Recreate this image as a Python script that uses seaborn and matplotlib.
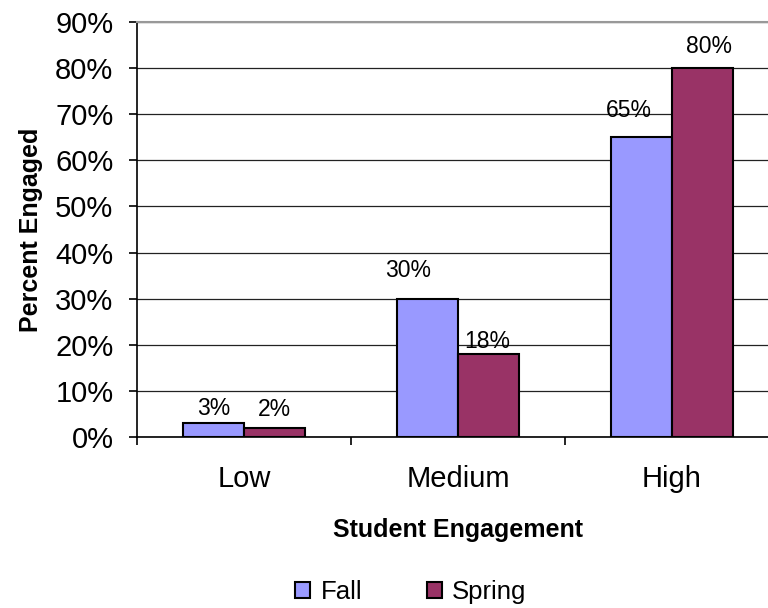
import pandas as pd
import numpy as np
import seaborn as sns
import matplotlib.pyplot as plt
from matplotlib.ticker import MultipleLocator, FixedLocator, PercentFormatter

categories = ["Low", "Medium", "High"]
fall = [3, 30, 65]
spring = [2, 18, 80]
seasons = ["Fall", "Spring"]
colors = ["#9999FF", "#993366"]

df = pd.DataFrame({
    "Engagement": categories * 2,
    "Season": ["Fall"] * 3 + ["Spring"] * 3,
    "Percent": fall + spring,
})

sns.set_style("white")
plt.rcParams["font.family"] = ["Liberation Sans", "DejaVu Sans"]
plt.rcParams.update({"text.color": "black", "axes.labelcolor": "black",
                     "xtick.color": "black", "ytick.color": "black"})

fig = plt.figure(figsize=(7.68, 6.08), dpi=100)
ax = fig.add_axes([0.1784, 0.2812, 0.836, 0.6826])

sns.barplot(data=df, x="Engagement", y="Percent", hue="Season", order=categories,
            hue_order=seasons, palette=colors, width=0.57, edgecolor="black",
            linewidth=1.5, saturation=1, ax=ax, zorder=3)

ax.set_ylim(0, 90)
ax.set_xlim(-0.5, 2.5)
ax.yaxis.set_major_locator(MultipleLocator(10))
ax.yaxis.set_major_formatter(PercentFormatter(decimals=0))
ax.grid(axis="y", color="#222222", linewidth=0.9, zorder=0)
ax.grid(axis="x", visible=False)

ax.spines["right"].set_visible(False)
ax.spines["top"].set_color("#999999")
ax.spines["top"].set_linewidth(1.5)
for side in ["left", "bottom"]:
    ax.spines[side].set_color("black")
    ax.spines[side].set_linewidth(1.2)

ax.tick_params(axis="y", which="major", left=True, length=6, width=1.2, pad=11, labelsize=21)
ax.tick_params(axis="x", which="major", bottom=False, length=0, pad=20, labelsize=21)
ax.xaxis.set_minor_locator(FixedLocator([-0.5, 0.5, 1.5, 2.5]))
ax.tick_params(axis="x", which="minor", bottom=True, length=6, width=1.2)

ax.set_xlabel("Student Engagement", fontsize=18, fontweight="bold", labelpad=18)
ax.set_ylabel("Percent Engaged", fontsize=18, fontweight="bold", labelpad=9)

# value labels, nudged like the original
offsets = {
    "Fall": [(0, 15), (-19, 28), (-13, 27)],
    "Spring": [(0, 18), (-1, 13), (6, 22)],
}
for cont, season in zip(ax.containers, seasons):
    for bar, (dx, dy) in zip(cont, offsets[season]):
        val = bar.get_height()
        ax.annotate(f"{val:.0f}%", (bar.get_x() + bar.get_width() / 2, val),
                    xytext=(dx, dy), textcoords="offset pixels",
                    ha="center", va="center", fontsize=16.5)

ax.legend(loc="center", bbox_to_anchor=(0.535, 1 - 592 / 608), bbox_transform=fig.transFigure,
          ncol=2, frameon=False, fontsize=18.5, handlelength=0.6, handleheight=0.6,
          handletextpad=0.4, columnspacing=2.5)

fig.savefig("out.png", dpi=100)
